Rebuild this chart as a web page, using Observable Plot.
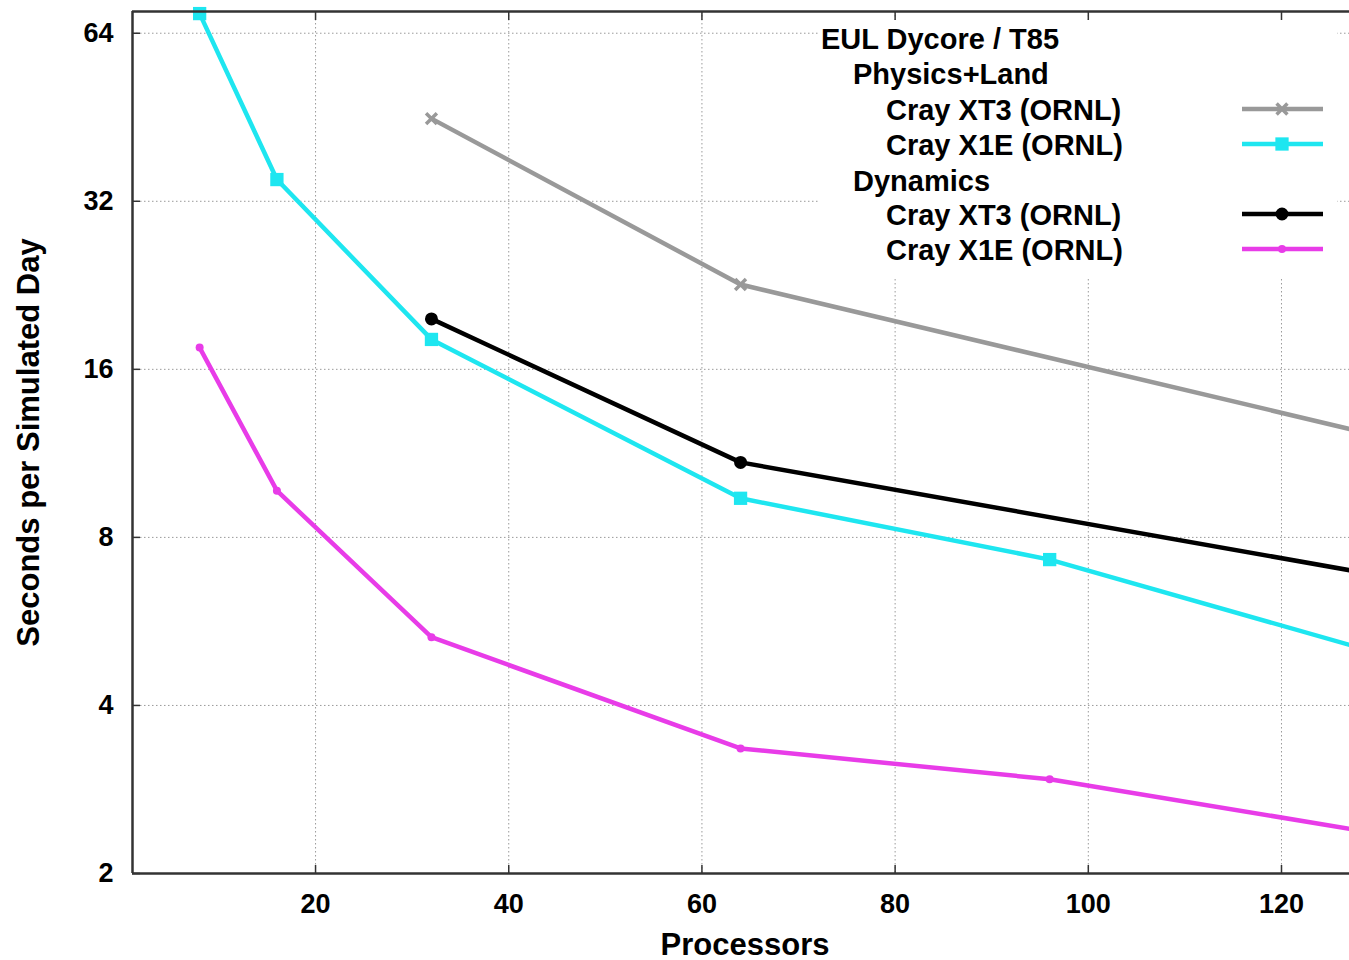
<!DOCTYPE html>
<html><head><meta charset="utf-8">
<script src="https://cdn.jsdelivr.net/npm/d3@7"></script>
<script src="https://cdn.jsdelivr.net/npm/@observablehq/plot@0.6"></script>
<style>
body{margin:0;background:#fff;}
#wrap{position:relative;width:1349px;height:960px;overflow:hidden;font-family:"Liberation Sans",Arial,Helvetica,sans-serif;font-weight:bold;color:#000;}
#wrap svg{font-weight:bold;}
#legend{position:absolute;left:820px;top:20px;width:517px;height:258px;background:#fff;}
.lg{position:absolute;font-size:29px;line-height:36px;white-space:nowrap;}
</style></head><body><div id="wrap"></div>
<script>
// ---- data ----
const physXT3Procs = [32, 64, 128];
const physXT3Secs  = [45.0, 22.7, 12.4];
const physX1EProcs = [8, 16, 32, 64, 96, 128];
const physX1ESecs  = [69.4, 35.0, 18.1, 9.4, 7.3, 5.08];
const dynXT3Procs  = [32, 64, 128];
const dynXT3Secs   = [19.7, 10.9, 6.94];
const dynX1EProcs  = [8, 16, 32, 64, 96, 128];
const dynX1ESecs   = [17.5, 9.7, 5.3, 3.35, 2.95, 2.39];

const xTicks = [20, 40, 60, 80, 100, 120];
const yTicks = [2, 4, 8, 16, 32, 64];

const legendTitle = "EUL Dycore / T85";
const groupNames = ["Physics+Land", "Dynamics"];
const machineNames = ["Cray XT3 (ORNL)", "Cray X1E (ORNL)"];

const seriesColors = ["#999999", "#1ee6f0", "#000000", "#e83ce8"];
const seriesSymbols = ["times", "square", "circle", "circle"];

const series = [
  {procs: physXT3Procs, secs: physXT3Secs},
  {procs: physX1EProcs, secs: physX1ESecs},
  {procs: dynXT3Procs, secs: dynXT3Secs},
  {procs: dynX1EProcs, secs: dynX1ESecs}
];
const rows = series.map((s, i) => s.procs.map((p, j) => ({p, v: s.secs[j], i}))) ;

const xDomain = [1.05, 127.04];
const yDomain = [2, 70];
const grid = {stroke: "#9a9a9a", strokeOpacity: 1, strokeWidth: 1, strokeDasharray: "1.5,2.5"};
const axisCol = "#333";

const dotStyle = [
  {symbol: "times", r: 5, stroke: seriesColors[0], strokeWidth: 3.5, fill: "none"},
  {symbol: "square", r: 7.5, fill: seriesColors[1], stroke: "none"},
  {symbol: "circle", r: 5.5, fill: seriesColors[2], stroke: seriesColors[2], strokeWidth: 2},
  {symbol: "circle", r: 4, fill: seriesColors[3], stroke: "none"}
];

const marks = [
  Plot.gridX(xTicks, grid),
  Plot.gridY(yTicks, grid),
];
rows.forEach((data, i) => {
  marks.push(Plot.line(data, {x: "p", y: "v", stroke: seriesColors[i], strokeWidth: 4.5, clip: true}));
});
rows.forEach((data, i) => {
  marks.push(Plot.dot(data, {x: "p", y: "v", ...dotStyle[i]}));
});
marks.push(
  Plot.ruleX([xDomain[0]], {stroke: axisCol, strokeWidth: 2.5}),
  Plot.ruleY(yDomain, {stroke: axisCol, strokeWidth: 2.5}),
  Plot.axisX(xTicks, {anchor: "bottom", tickSize: -8, stroke: axisCol, strokeWidth: 1.5, tickFormat: () => "", label: null}),
  Plot.axisX(xTicks, {anchor: "top", tickSize: -8, stroke: axisCol, strokeWidth: 1.5, tickFormat: () => "", label: null}),
  Plot.axisY(yTicks, {anchor: "left", tickSize: -8, stroke: axisCol, strokeWidth: 1.5, tickFormat: () => "", label: null}),
  Plot.axisX(xTicks, {anchor: "bottom", tickSize: 0, tickPadding: 20, fontSize: 27, fill: "#000", label: null}),
  Plot.axisY(yTicks, {anchor: "left", tickSize: 0, tickPadding: 19, fontSize: 27, fill: "#000", label: null, tickFormat: d => String(d)}),
  Plot.text(["Processors"], {frameAnchor: "bottom", dx: 4, dy: 81, lineAnchor: "bottom", fontSize: 31, fill: "#000"}),
  Plot.text(["Seconds per Simulated Day"], {frameAnchor: "left", textAnchor: "middle", dx: -103, rotate: -90, fontSize: 31, fill: "#000"})
);

const chart = Plot.plot({
  width: 1349, height: 960,
  marginLeft: 132, marginRight: 0, marginTop: 11, marginBottom: 87,
  style: {fontFamily: '"Liberation Sans", Arial, Helvetica, sans-serif', fontWeight: "bold", background: "#fff", color: "#000", overflow: "visible"},
  x: {domain: xDomain},
  y: {type: "log", base: 2, domain: yDomain},
  marks
});
const wrap = document.getElementById("wrap");
wrap.appendChild(chart);

// ---- legend ----
const legend = document.createElement("div");
legend.id = "legend";
wrap.appendChild(legend);
const L = 820, T = 20;
const items = [
  {text: legendTitle, x: 821, y: 39},
  {text: groupNames[0], x: 853, y: 74},
  {text: machineNames[0], x: 886, y: 110, s: 0},
  {text: machineNames[1], x: 886, y: 145, s: 1},
  {text: groupNames[1], x: 853, y: 181},
  {text: machineNames[0], x: 886, y: 215, s: 2},
  {text: machineNames[1], x: 886, y: 250, s: 3}
];
const ns = "http://www.w3.org/2000/svg";
const sw = document.createElementNS(ns, "svg");
sw.setAttribute("width", 517); sw.setAttribute("height", 258);
sw.style.position = "absolute"; sw.style.left = "0"; sw.style.top = "0";
legend.appendChild(sw);
items.forEach(it => {
  const d = document.createElement("div");
  d.className = "lg";
  d.textContent = it.text;
  d.style.left = (it.x - L) + "px";
  d.style.top = (it.y - T - 18) + "px";
  legend.appendChild(d);
  if (it.s !== undefined) {
    const cy = it.y - T - 1;
    const ln = document.createElementNS(ns, "line");
    ln.setAttribute("x1", 1242 - L); ln.setAttribute("x2", 1323 - L);
    ln.setAttribute("y1", cy); ln.setAttribute("y2", cy);
    ln.setAttribute("stroke", seriesColors[it.s]); ln.setAttribute("stroke-width", 4.5);
    sw.appendChild(ln);
    const st = dotStyle[it.s];
    const sym = {times: d3.symbolTimes, square: d3.symbolSquare, circle: d3.symbolCircle}[st.symbol];
    const p = document.createElementNS(ns, "path");
    p.setAttribute("d", d3.symbol(sym, Math.PI * st.r * st.r)());
    p.setAttribute("transform", `translate(${1282 - L},${cy})`);
    p.setAttribute("fill", st.fill); p.setAttribute("stroke", st.stroke);
    if (st.strokeWidth) p.setAttribute("stroke-width", st.strokeWidth);
    sw.appendChild(p);
  }
});
</script>
</body></html>
